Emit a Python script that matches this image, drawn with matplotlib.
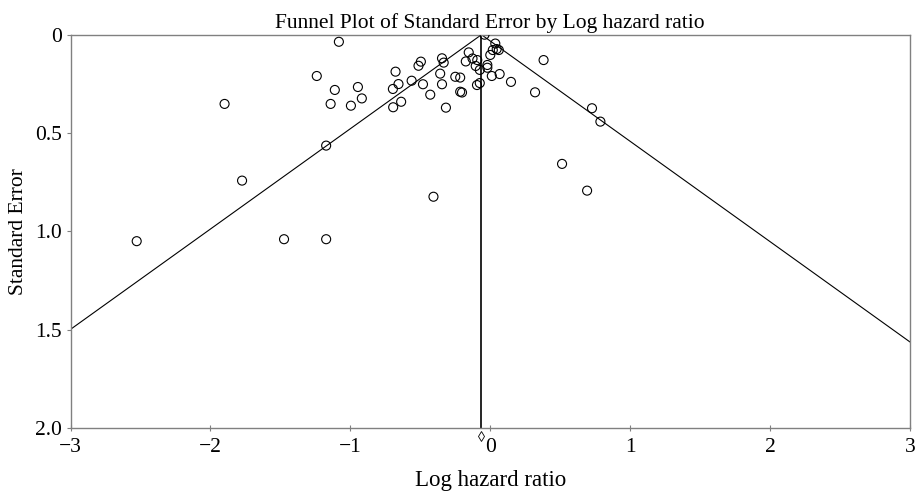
import matplotlib
matplotlib.use("Agg")
import matplotlib.pyplot as plt
import numpy as np

plt.rcParams['font.family'] = ['Liberation Serif', 'DejaVu Serif']

title = "Funnel Plot of Standard Error by Log hazard ratio"
x_label = "Log hazard ratio"
y_label = "Standard Error"

log_hr = [-0.041, -1.082, 0.036, 0.018, 0.046, 0.061, 0.000, -0.154, 0.381,
          -0.345, -0.333, -0.496, -0.513, -0.175, -0.127, -0.093, -0.104,
          -0.021, -0.021, -0.075, -1.240, -0.677, -0.358, -0.250, -0.215,
          0.011, 0.067, -0.562, -0.656, -0.481, -0.345, 0.148, -1.111,
          -0.946, -0.696, -0.918, -0.429, -0.215, -0.202, -0.095, -0.075,
          0.320, -1.141, -0.996, -0.637, -0.694, -0.317, 0.727, 0.787,
          -1.899, -1.173, -1.774, -2.527, -1.474, -1.173, -0.406, 0.513, 0.692]
std_err = [0.000, 0.036, 0.045, 0.078, 0.073, 0.078, 0.103, 0.090, 0.129,
           0.120, 0.142, 0.137, 0.158, 0.136, 0.121, 0.129, 0.159,
           0.154, 0.168, 0.179, 0.210, 0.188, 0.198, 0.214, 0.218,
           0.210, 0.200, 0.234, 0.251, 0.252, 0.252, 0.240, 0.281,
           0.266, 0.276, 0.324, 0.305, 0.290, 0.294, 0.256, 0.246,
           0.293, 0.352, 0.361, 0.341, 0.369, 0.371, 0.374, 0.442,
           0.352, 0.564, 0.742, 1.050, 1.040, 1.040, 0.824, 0.657, 0.793]
pooled = -0.063
z = 1.96

x_ticks = [-3, -2, -1, 0, 1, 2, 3]
x_tick_labels = ["\u22123", "\u22122", "\u22121", "0", "1", "2", "3"]
y_ticks = [0, 0.5, 1.0, 1.5, 2.0]
y_tick_labels = ["0", "0.5", "1.0", "1.5", "2.0"]

fig = plt.figure(figsize=(9.17, 4.95), dpi=100)
ax = fig.add_axes([0.0769, 0.1354, 0.9155, 0.7945])

ax.scatter(log_hr, std_err, s=42, facecolors='none', edgecolors='black',
           linewidths=0.8, zorder=3)

se_line = np.array([0.0, 2.0])
ax.plot(pooled - z * se_line, se_line, color='black', lw=0.8, zorder=2)
ax.plot(pooled + z * se_line, se_line, color='black', lw=0.8, zorder=2)
ax.plot([pooled, pooled], [0, 2.0], color='black', lw=1.2, zorder=2)

ax.plot([pooled], [2.04], marker='d', markersize=5.5, markerfacecolor='white',
        markeredgecolor='black', markeredgewidth=0.6, clip_on=False, zorder=4)

ax.set_xlim(-3, 3)
ax.set_ylim(2.0, 0)
ax.set_xticks(x_ticks)
ax.set_xticklabels(x_tick_labels)
ax.set_yticks(y_ticks)
ax.set_yticklabels(y_tick_labels)
ax.tick_params(axis='x', direction='inout', length=5, width=0.8, color='#808080',
               labelsize=15.5, pad=5)
ax.tick_params(axis='y', direction='out', length=3, width=0.8, color='#808080',
               labelsize=15.5, pad=3)
for sp in ax.spines.values():
    sp.set_color('#808080')
    sp.set_linewidth(1.0)

ax.set_title(title, fontsize=15.5, pad=5)
ax.set_xlabel(x_label, fontsize=16.5, labelpad=9)
ax.set_ylabel(y_label, fontsize=15.5, labelpad=5)

fig.savefig("out.png", dpi=100)
